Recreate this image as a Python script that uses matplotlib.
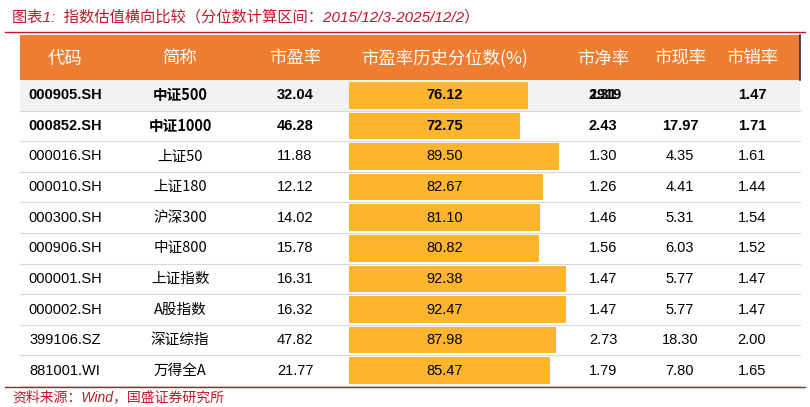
import matplotlib
matplotlib.use("Agg")
import matplotlib.pyplot as plt

plt.rcParams['font.family'] = ['Liberation Sans', 'Noto Sans CJK SC', 'DejaVu Sans']

# table data
codes = ["000905.SH", "000852.SH", "000016.SH", "000010.SH", "000300.SH",
         "000906.SH", "000001.SH", "000002.SH", "399106.SZ", "881001.WI"]
names = ["中证500", "中证1000", "上证50", "上证180", "沪深300",
         "中证800", "上证指数", "A股指数", "深证综指", "万得全A"]
pe = [32.04, 46.28, 11.88, 12.12, 14.02, 15.78, 16.31, 16.32, 47.82, 21.77]
pe_pct = [76.12, 72.75, 89.50, 82.67, 81.10, 80.82, 92.38, 92.47, 87.98, 85.47]
pb = ["2.31", "2.43", "1.30", "1.26", "1.46", "1.56", "1.47", "1.47", "2.73", "1.79"]
pcf = ["19.19", "17.97", "4.35", "4.41", "5.31", "6.03", "5.77", "5.77", "18.30", "7.80"]
ps = [1.47, 1.71, 1.61, 1.44, 1.54, 1.52, 1.47, 1.47, 2.00, 1.65]
headers = ["代码", "简称", "市盈率", "市盈率历史分位数(%)", "市净率", "市现率", "市销率"]

W, H = 810, 407
fig = plt.figure(figsize=(W / 100, H / 100), dpi=100)
ax = fig.add_axes([0, 0, 1, 1])
ax.set_xlim(0, W)
ax.set_ylim(H, 0)
ax.axis('off')

# title
ax.text(12, 17, "图表1:  指数估值横向比较（分位数计算区间：2015/12/3-2025/12/2）",
        color='#C0182A', fontsize=11, style='italic', va='center')
ax.plot([5, 805], [32, 32], color='#C0182A', lw=1)

x0, x1 = 20, 800
top, hdr_h, row_h = 35, 45, 30.6
ax.add_patch(plt.Rectangle((x0, top), x1 - x0, hdr_h, color='#ED7D31', lw=0))
ax.plot([x1, x1], [top, top + hdr_h], color='#1F2D5A', lw=1.2)

col_x = [65, 180, 295, 445, 603, 680, 752]
for cx, h in zip(col_x, headers):
    ax.text(cx, top + hdr_h / 2 + 1, h, color='white', fontsize=12.5,
            ha='center', va='center', family=['Noto Sans CJK SC'])

bar_x0, bar_scale = 349, 2.35
y0 = top + hdr_h
for i in range(len(codes)):
    yt = y0 + i * row_h
    yc = yt + row_h / 2
    if i == 0:
        ax.add_patch(plt.Rectangle((x0, yt), x1 - x0, row_h, color='#F2F2F2', lw=0))
    ax.plot([x0, x1], [yt + row_h, yt + row_h], color='#D9D9D9', lw=0.8)
    ax.barh(yc, pe_pct[i] * bar_scale, left=bar_x0, height=row_h - 4,
            color='#FDB52B', lw=0)
    bold = 'bold' if i < 2 else 'normal'
    fs = 10.5
    ax.text(col_x[0], yc, codes[i], ha='center', va='center', fontsize=fs, weight=bold)
    ax.text(col_x[1], yc, names[i], ha='center', va='center', fontsize=fs, weight=bold,
            family=['Noto Sans CJK SC'])
    ax.text(col_x[2], yc, f"{pe[i]:.2f}", ha='center', va='center', fontsize=fs, weight=bold)
    ax.text(col_x[3], yc, f"{pe_pct[i]:.2f}", ha='center', va='center', fontsize=fs, weight=bold)
    if i == 0:
        # overlapping values as in the source
        ax.text(col_x[4], yc, pb[i], ha='center', va='center', fontsize=fs, weight=bold)
        ax.text(col_x[4] + 2, yc, pcf[i].replace('.', ''), ha='center', va='center',
                fontsize=fs, weight=bold)
    else:
        ax.text(col_x[4], yc, pb[i], ha='center', va='center', fontsize=fs, weight=bold)
        ax.text(col_x[5], yc, pcf[i], ha='center', va='center', fontsize=fs, weight=bold)
    ax.text(col_x[6], yc, f"{ps[i]:.2f}", ha='center', va='center', fontsize=fs, weight=bold)

yb = y0 + len(codes) * row_h
ax.plot([5, 805], [yb + 1, yb + 1], color='#C0182A', lw=1)
ax.text(12, yb + 11, "资料来源：Wind，国盛证券研究所", color='#C0182A', fontsize=10,
        style='italic', va='center')

fig.savefig("out.png", dpi=100)
